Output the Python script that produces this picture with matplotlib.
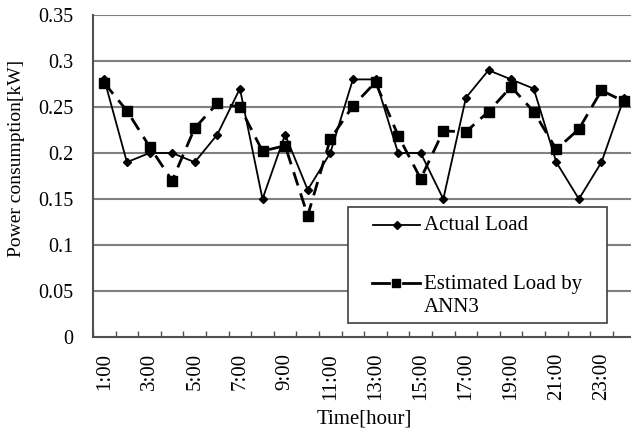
import matplotlib
matplotlib.use("Agg")
import matplotlib.pyplot as plt
from matplotlib.lines import Line2D
from matplotlib.patches import Rectangle

hours = [f"{h}:00" for h in range(1, 25)]
actual = [0.28, 0.19, 0.20, 0.20, 0.19, 0.22, 0.27, 0.15, 0.22, 0.16, 0.20, 0.28,
          0.28, 0.20, 0.20, 0.15, 0.26, 0.29, 0.28, 0.27, 0.19, 0.15, 0.19, 0.26]
estimated = [0.276, 0.246, 0.207, 0.170, 0.227, 0.254, 0.250, 0.202, 0.208, 0.132, 0.215, 0.251,
             0.277, 0.219, 0.172, 0.224, 0.223, 0.245, 0.272, 0.245, 0.204, 0.226, 0.268, 0.256]
yticks = [0, 0.05, 0.1, 0.15, 0.2, 0.25, 0.3, 0.35]
ytick_labels = ["0", "0.05", "0.1", "0.15", "0.2", "0.25", "0.3", "0.35"]

plt.rcParams['font.family'] = ['Liberation Serif', 'DejaVu Serif']

W, H = 631, 432
fig = plt.figure(figsize=(W/100, H/100), dpi=100)
x0, x1, ytop, ybot = 93, 635.4, 15, 337
ax = fig.add_axes([x0/W, 1-ybot/H, (x1-x0)/W, (ybot-ytop)/H])

n = len(hours)
xs = list(range(n))
ax.set_xlim(-0.5, n-0.5)
ax.set_ylim(0, 0.35)

gridc = '#808080'
for v in yticks[1:]:
    ax.axhline(v, color=gridc, lw=1.5, zorder=1)

ax.plot(xs, estimated, color='black', lw=2.0, dashes=(5, 3), marker='s', ms=6.5,
        zorder=3, label='Estimated')
ax.plot(xs, actual, color='black', lw=1.3, marker='D', ms=4, zorder=4, label='Actual')

ax.set_yticks(yticks)
ax.set_yticklabels(ytick_labels, fontsize=14.5)
ax.tick_params(axis='y', length=0, pad=14)

ax.set_xticks(xs[::2])
ax.set_xticklabels(hours[::2], rotation=90, fontsize=15)
ax.set_xticks([i+0.5 for i in range(-1, n)], minor=True)
ax.tick_params(axis='x', which='major', length=0, pad=11.5)
ax.tick_params(axis='x', which='minor', direction='in', length=4, width=1, color='#505050')

for s in ['top', 'right']:
    ax.spines[s].set_visible(False)
for s in ['left', 'bottom']:
    ax.spines[s].set_color('#505050')
    ax.spines[s].set_linewidth(1.5)

fig.text(17/W, 1-158/H, 'Power consumption[kW]', rotation=90, ha='center', va='center', fontsize=14)
fig.text(364/W, 1-419/H, 'Time[hour]', ha='center', va='center', fontsize=15)

# legend box
lx0, lx1, ly0, ly1 = 348, 607, 207, 323
fig.patches.append(Rectangle((lx0/W, 1-ly1/H), (lx1-lx0)/W, (ly1-ly0)/H,
                             transform=fig.transFigure, facecolor='white',
                             edgecolor='#404040', lw=1.2, zorder=10))
fig.lines.append(Line2D([373/W, 420/W], [1-225/H, 1-225/H], transform=fig.transFigure,
                        color='black', lw=1.3, zorder=11))
fig.lines.append(Line2D([396.5/W], [1-225/H], transform=fig.transFigure, color='black',
                        marker='D', ms=4, zorder=11))
fig.lines.append(Line2D([372/W, 389/W], [1-283/H, 1-283/H], transform=fig.transFigure,
                        color='black', lw=2.0, zorder=11))
fig.lines.append(Line2D([403/W, 420/W], [1-283/H, 1-283/H], transform=fig.transFigure,
                        color='black', lw=2.0, zorder=11))
fig.lines.append(Line2D([396/W], [1-283/H], transform=fig.transFigure, color='black',
                        marker='s', ms=5.5, zorder=11))
fig.text(424/W, 1-225/H, 'Actual Load', ha='left', va='center', fontsize=15, zorder=12)
fig.text(424/W, 1-284/H, 'Estimated Load by', ha='left', va='center', fontsize=15, zorder=12)
fig.text(424/W, 1-307/H, 'ANN3', ha='left', va='center', fontsize=15, zorder=12)

fig.savefig('out.png', dpi=100)
